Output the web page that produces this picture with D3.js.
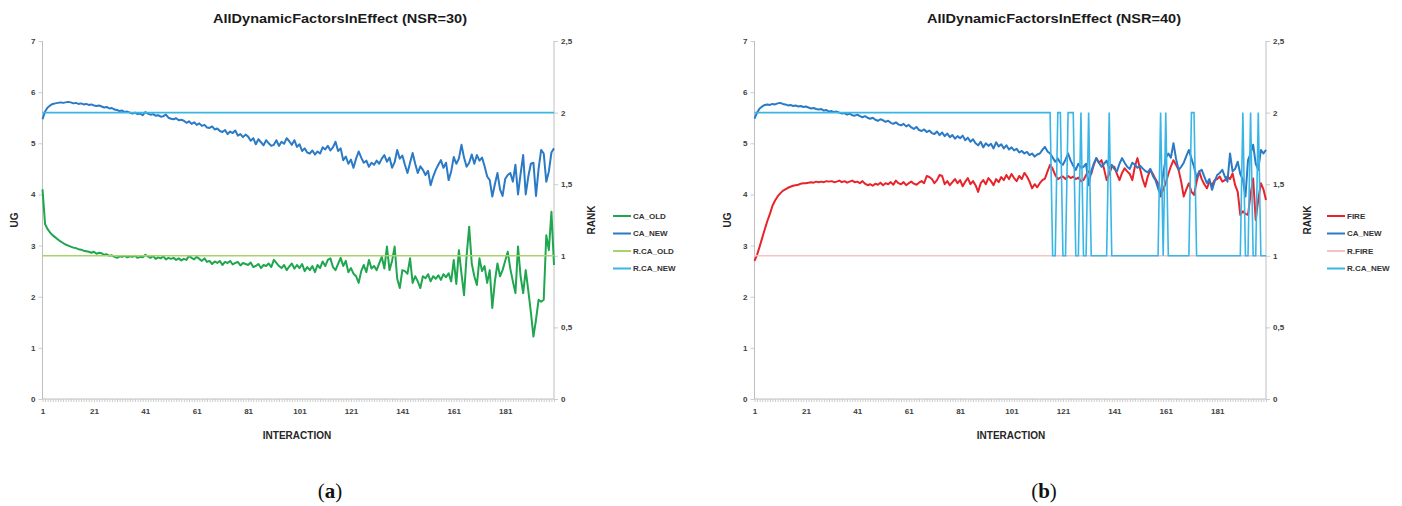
<!DOCTYPE html>
<html><head><meta charset="utf-8">
<script src="https://cdn.jsdelivr.net/npm/d3@7"></script>
<style>
body{margin:0;background:#fff;}
svg{display:block;}
</style></head><body>
<svg id="c" width="1402" height="506"></svg>
<script>
// ---------- DATA ----------
const xTickLabels = [1,21,41,61,81,101,121,141,161,181];
const ugTicks = [0,1,2,3,4,5,6,7];
const rankTicks = [0,0.5,1,1.5,2,2.5];
const rankTickLabels = ["0","0,5","1","1,5","2","2,5"];

// Panel (a) NSR=30
const a_CA_OLD = [
4.10,3.42,3.32,3.25,3.20,3.16,3.12,3.08,3.05,3.02,
3.00,2.98,2.96,2.95,2.93,2.92,2.90,2.89,2.88,2.86,
2.88,2.84,2.86,2.85,2.82,2.83,2.80,2.81,2.78,2.76,
2.79,2.78,2.80,2.77,2.79,2.78,2.80,2.76,2.78,2.77,
2.82,2.79,2.76,2.80,2.74,2.77,2.75,2.79,2.73,2.76,
2.74,2.76,2.72,2.75,2.71,2.74,2.72,2.80,2.76,2.73,
2.78,2.74,2.70,2.75,2.68,2.70,2.64,2.69,2.66,2.70,
2.62,2.68,2.66,2.70,2.63,2.66,2.68,2.61,2.66,2.64,
2.62,2.67,2.58,2.60,2.64,2.56,2.62,2.60,2.65,2.58,
2.72,2.66,2.60,2.56,2.62,2.52,2.59,2.65,2.55,2.62,
2.56,2.64,2.50,2.58,2.52,2.60,2.48,2.62,2.56,2.69,
2.60,2.72,2.75,2.58,2.52,2.64,2.76,2.60,2.70,2.48,
2.56,2.45,2.40,2.27,2.50,2.62,2.48,2.72,2.55,2.60,
2.52,2.65,2.78,2.55,2.98,2.52,2.70,2.98,2.35,2.17,
2.52,2.50,2.45,2.75,2.27,2.40,2.30,2.17,2.40,2.36,
2.44,2.30,2.40,2.35,2.42,2.33,2.44,2.38,2.46,2.30,
2.72,2.25,2.91,2.45,2.03,2.80,3.37,2.65,2.40,2.23,
2.75,2.50,2.60,2.27,2.52,1.78,2.30,2.65,2.40,2.52,
2.70,2.88,2.55,2.30,2.07,2.98,2.40,2.07,2.52,2.12,
1.70,1.22,1.55,1.94,1.90,1.94,3.20,2.91,3.66,2.62];
const a_CA_NEW = [
5.47,5.62,5.70,5.74,5.77,5.78,5.79,5.80,5.79,5.80,
5.81,5.80,5.78,5.79,5.77,5.78,5.76,5.77,5.75,5.76,
5.74,5.73,5.74,5.72,5.70,5.71,5.68,5.69,5.66,5.65,
5.63,5.64,5.61,5.62,5.60,5.58,5.60,5.57,5.58,5.55,
5.61,5.58,5.56,5.57,5.54,5.55,5.52,5.53,5.56,5.50,
5.48,5.47,5.49,5.45,5.46,5.44,5.40,5.43,5.38,5.41,
5.36,5.39,5.34,5.36,5.31,5.30,5.33,5.27,5.29,5.24,
5.22,5.26,5.18,5.23,5.20,5.25,5.15,5.18,5.12,5.17,
5.13,5.05,5.10,4.98,5.08,5.02,4.96,5.06,5.00,4.95,
4.97,5.06,4.95,5.03,4.99,5.10,5.04,4.97,5.06,4.93,
4.98,4.85,4.90,4.82,4.80,4.86,4.78,4.84,4.80,4.92,
4.88,4.95,4.86,4.92,5.03,4.85,4.90,4.67,4.74,4.60,
4.68,4.52,4.70,4.84,4.72,4.62,4.66,4.54,4.62,4.58,
4.66,4.60,4.70,4.77,4.64,4.72,4.52,4.63,4.87,4.70,
4.76,4.58,4.42,4.62,4.81,4.60,4.42,4.55,4.48,4.38,
4.46,4.18,4.35,4.48,4.58,4.67,4.52,4.62,4.28,4.45,
4.73,4.60,4.70,4.97,4.72,4.54,4.62,4.78,4.60,4.77,
4.66,4.72,4.55,4.35,4.28,3.96,4.20,4.42,4.10,3.97,
4.30,4.38,4.42,4.25,4.58,4.00,4.40,4.77,4.00,4.35,
4.60,4.62,3.97,4.50,4.87,4.80,4.25,4.45,4.82,4.90];
const a_R_CA_OLD = Array(200).fill(1);
const a_R_CA_NEW = Array(200).fill(2);

// Panel (b) NSR=40
const b_FIRE = [
2.70,2.82,2.98,3.15,3.32,3.48,3.62,3.78,3.88,3.96,
4.02,4.07,4.10,4.13,4.15,4.17,4.18,4.19,4.21,4.22,
4.22,4.23,4.24,4.23,4.25,4.24,4.25,4.24,4.26,4.25,
4.26,4.24,4.25,4.27,4.24,4.26,4.23,4.25,4.27,4.24,
4.25,4.22,4.26,4.21,4.18,4.20,4.17,4.21,4.19,4.23,
4.18,4.22,4.20,4.24,4.19,4.27,4.22,4.20,4.24,4.18,
4.22,4.25,4.21,4.19,4.23,4.26,4.22,4.36,4.34,4.30,
4.22,4.28,4.38,4.36,4.20,4.26,4.18,4.24,4.30,4.22,
4.28,4.16,4.25,4.32,4.20,4.26,4.18,4.05,4.22,4.28,
4.20,4.32,4.26,4.18,4.30,4.24,4.34,4.28,4.38,4.30,
4.40,4.32,4.26,4.36,4.30,4.42,4.35,4.25,4.12,4.20,
4.14,4.22,4.28,4.31,4.45,4.58,4.50,4.38,4.30,4.33,
4.35,4.30,4.36,4.32,4.35,4.30,4.33,4.26,4.28,4.38,
4.45,4.40,4.58,4.71,4.62,4.67,4.50,4.28,4.40,4.54,
4.54,4.40,4.28,4.42,4.51,4.45,4.40,4.28,4.55,4.71,
4.50,4.30,4.15,4.35,4.48,4.40,4.30,4.22,3.96,4.10,
4.22,4.40,4.55,4.67,4.58,4.48,4.25,3.96,4.10,4.22,
4.05,3.99,4.25,4.45,4.30,4.20,4.12,4.25,4.18,4.28,
4.30,4.35,4.25,4.28,4.35,4.30,4.41,4.18,4.05,3.60,
3.67,3.62,3.60,4.00,4.31,3.50,3.90,4.22,4.10,3.89];
const b_CA_NEW = [
5.48,5.60,5.68,5.72,5.75,5.76,5.75,5.77,5.76,5.78,
5.79,5.77,5.76,5.74,5.75,5.73,5.74,5.72,5.73,5.71,
5.72,5.70,5.68,5.69,5.67,5.66,5.67,5.64,5.65,5.62,
5.63,5.61,5.62,5.60,5.58,5.59,5.56,5.58,5.55,5.54,
5.56,5.53,5.51,5.53,5.50,5.48,5.50,5.46,5.44,5.47,
5.45,5.42,5.44,5.40,5.38,5.41,5.37,5.35,5.38,5.33,
5.36,5.31,5.28,5.32,5.26,5.24,5.27,5.22,5.25,5.20,
5.18,5.23,5.16,5.21,5.14,5.19,5.12,5.16,5.09,5.14,
5.10,5.15,5.06,5.11,5.03,5.08,5.00,4.96,5.03,4.92,
5.00,4.95,4.99,4.90,5.02,4.94,4.98,4.90,4.96,4.88,
4.92,4.86,4.89,4.82,4.85,4.80,4.83,4.77,4.80,4.74,
4.78,4.80,4.87,4.93,4.84,4.80,4.72,4.64,4.70,4.62,
4.58,4.68,4.80,4.66,4.56,4.48,4.60,4.52,4.54,4.60,
4.18,4.45,4.60,4.71,4.62,4.54,4.60,4.66,4.51,4.58,
4.50,4.45,4.60,4.71,4.62,4.54,4.50,4.62,4.58,4.52,
4.56,4.51,4.46,4.43,4.50,4.36,4.28,4.12,3.99,4.40,
4.71,4.80,4.72,5.00,4.70,4.48,4.54,4.62,4.75,4.87,
4.70,4.54,4.32,4.45,4.48,4.35,4.22,4.30,4.09,4.25,
4.38,4.42,4.48,4.35,4.25,4.80,4.45,4.50,4.64,4.40,
4.29,3.96,4.67,4.80,4.97,4.60,4.48,4.87,4.80,4.87];
const b_R_FIRE = Array(200).fill(1);
const b_R_CA_NEW = [
2,2,2,2,2,2,2,2,2,2, 2,2,2,2,2,2,2,2,2,2,
2,2,2,2,2,2,2,2,2,2, 2,2,2,2,2,2,2,2,2,2,
2,2,2,2,2,2,2,2,2,2, 2,2,2,2,2,2,2,2,2,2,
2,2,2,2,2,2,2,2,2,2, 2,2,2,2,2,2,2,2,2,2,
2,2,2,2,2,2,2,2,2,2, 2,2,2,2,2,2,2,2,2,2,
2,2,2,2,2,2,2,2,2,2, 2,2,2,2,2,2,1,1,2,2,
1,1,2,2,2,1,1,2,1,1, 2,1,1,1,1,1,1,1,2,1,
1,1,1,1,1,1,1,1,1,1, 1,1,1,1,1,1,1,1,2,1,
2,1,1,1,1,1,1,1,1,1, 2,2,1,1,1,1,1,1,1,1,
1,1,1,1,1,1,1,1,1,1, 2,1,1,2,1,1,2,1,1,1];

const panels = [
  { title:"AllDynamicFactorsInEffect (NSR=30)", label:"a",
    x0:42.5, x1:554, titleX:340, legendX:613, uX:14, rX:591, iX:297, capX:330,
    primary:[{name:"CA_OLD", data:a_CA_OLD, color:"#1fa64f"},{name:"CA_NEW", data:a_CA_NEW, color:"#2a7ac6"}],
    secondary:[{name:"R.CA_OLD", data:a_R_CA_OLD, color:"#a8d26a"},{name:"R.CA_NEW", data:a_R_CA_NEW, color:"#3ab6e6"}]},
  { title:"AllDynamicFactorsInEffect (NSR=40)", label:"b",
    x0:754.5, x1:1266, titleX:1054, legendX:1327, uX:727, rX:1307, iX:1011, capX:1044,
    primary:[{name:"FIRE", data:b_FIRE, color:"#e8242a"},{name:"CA_NEW", data:b_CA_NEW, color:"#2a7ac6"}],
    secondary:[{name:"R.FIRE", data:b_R_FIRE, color:"#f5c2c5"},{name:"R.CA_NEW", data:b_R_CA_NEW, color:"#3ab6e6"}]}
];

const svg = d3.select("#c");
const yTop = 41, yBot = 399;
const axisCol = "#bfbfbf";
const tickFont = "'Liberation Sans', Arial, sans-serif";

panels.forEach(p => {
  const n = p.primary[0].data.length;
  const x = d3.scaleLinear().domain([1, n]).range([p.x0, p.x1]);
  const yL = d3.scaleLinear().domain([0,7]).range([yBot, yTop]);
  const yR = d3.scaleLinear().domain([0,2.5]).range([yBot, yTop]);
  const g = svg.append("g");

  // title
  g.append("text").attr("x", p.titleX).attr("y", 23).attr("text-anchor","middle")
    .attr("font-family", tickFont).attr("font-weight","bold").attr("font-size", 13.5)
    .attr("fill","#1a1a1a").attr("textLength", 254).attr("lengthAdjust","spacingAndGlyphs")
    .text(p.title);

  // left axis
  const la = g.append("g").attr("transform", `translate(${p.x0},0)`)
    .call(d3.axisLeft(yL).tickValues(ugTicks).tickSize(4).tickPadding(3).tickFormat(d3.format("d")));
  // right axis
  const ra = g.append("g").attr("transform", `translate(${p.x1},0)`)
    .call(d3.axisRight(yR).tickValues(rankTicks).tickSize(4).tickPadding(3)
      .tickFormat((d,i) => rankTickLabels[i]));
  // bottom axis (tick at every category)
  const cats = d3.range(1, n+1);
  const ba = g.append("g").attr("transform", `translate(0,${yBot})`)
    .call(d3.axisBottom(x).tickValues(cats).tickSize(3).tickPadding(6)
      .tickFormat(d => xTickLabels.includes(d) ? String(d) : ""));
  [la, ra, ba].forEach(a => {
    a.selectAll("path.domain").attr("stroke", axisCol).attr("stroke-width",1);
    a.selectAll(".tick line").attr("stroke", axisCol).attr("stroke-width",0.8);
    a.selectAll("text").attr("font-family", tickFont).attr("font-weight","bold")
      .attr("font-size", 8).attr("fill","#404040");
  });
  la.select("path.domain").attr("d", `M-0,${yTop}V${yBot}`);
  ra.select("path.domain").attr("d", `M0,${yTop}V${yBot}`);
  ba.select("path.domain").attr("d", `M${p.x0},0H${p.x1}`);

  // axis titles
  g.append("text").attr("transform", `translate(${p.uX},220) rotate(-90)`).attr("text-anchor","middle")
    .attr("dy","0.35em").attr("font-family", tickFont).attr("font-weight","bold").attr("font-size",10)
    .attr("fill","#262626").text("UG");
  g.append("text").attr("transform", `translate(${p.rX},220) rotate(-90)`).attr("text-anchor","middle")
    .attr("dy","0.35em").attr("font-family", tickFont).attr("font-weight","bold").attr("font-size",10)
    .attr("fill","#262626").text("RANK");
  g.append("text").attr("x", p.iX).attr("y", 439).attr("text-anchor","middle")
    .attr("font-family", tickFont).attr("font-weight","bold").attr("font-size",10)
    .attr("fill","#262626").text("INTERACTION");

  // lines
  const lineL = d3.line().x((d,i)=>x(i+1)).y(d=>yL(d));
  const lineR = d3.line().x((d,i)=>x(i+1)).y(d=>yR(d));
  p.primary.forEach(s => {
    g.append("path").datum(s.data).attr("d", lineL).attr("fill","none")
      .attr("stroke", s.color).attr("stroke-width", 2).attr("stroke-linejoin","round");
  });
  p.secondary.forEach(s => {
    g.append("path").datum(s.data).attr("d", lineR).attr("fill","none")
      .attr("stroke", s.color).attr("stroke-width", 1.6).attr("stroke-linejoin","miter");
  });

  // legend
  const leg = [...p.primary, ...p.secondary];
  const ly = [216, 233.5, 251, 268.5];
  leg.forEach((s,i) => {
    g.append("line").attr("x1", p.legendX).attr("x2", p.legendX+18)
      .attr("y1", ly[i]).attr("y2", ly[i]).attr("stroke", s.color).attr("stroke-width", 2);
    g.append("text").attr("x", p.legendX+20).attr("y", ly[i]).attr("dy","0.35em")
      .attr("font-family", tickFont).attr("font-weight","bold").attr("font-size",8)
      .attr("fill","#333").text(s.name);
  });

  // caption
  const cap = g.append("text").attr("x", p.capX).attr("y", 498).attr("text-anchor","middle")
    .attr("font-family","'Liberation Serif', 'DejaVu Serif', serif").attr("font-size",21).attr("fill","#111");
  cap.append("tspan").text("(");
  cap.append("tspan").attr("font-weight","bold").text(p.label);
  cap.append("tspan").text(")");
});
</script>
</body></html>
